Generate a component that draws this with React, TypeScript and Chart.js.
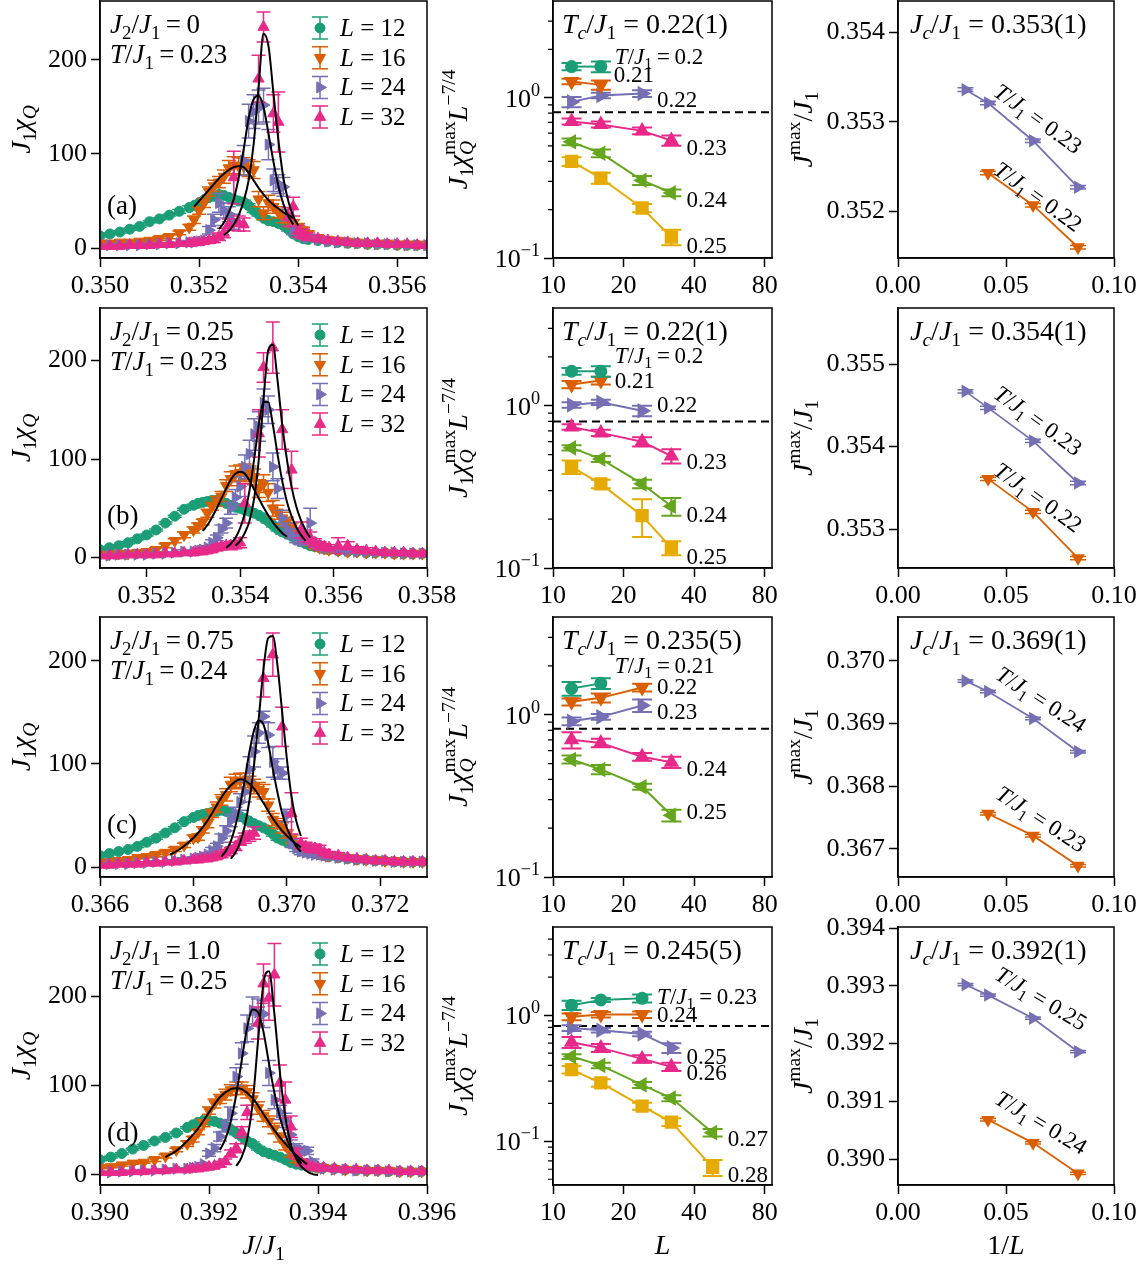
import React, { useEffect, useRef } from 'react';
import { Chart, registerables } from 'chart.js';

Chart.register(...registerables);

const FONT = '"Liberation Serif", "DejaVu Serif", serif';
const TEAL = '#1b9e77';
const ORANGE = '#d95f02';
const PURPLE = '#7570b3';
const PINK = '#e7298a';
const GREEN = '#66a61e';
const YELLOW = '#e6ab02';
const TS = '\u2009';

// text sizes (px)
const SZ_TICK = 26;
const SZ_ANN = 27;
const SZ_LEG = 25;
const SZ_BOX = 28;
const SZ_SER = 23;
const SZ_ROT = 23;
const SZ_TITLE = 28;

// ================= DATA: column 1, J1*chi_Q versus J/J1 =================
const sizesL = [12, 16, 24, 32, 48];

// (a) J2/J1 = 0, T/J1 = 0.23
const gridA = [0.35, 0.3502, 0.3504, 0.3506, 0.3508, 0.351, 0.3512, 0.3514, 0.3516, 0.3518,
  0.3519, 0.352, 0.3521, 0.3522, 0.3523, 0.3524, 0.3525, 0.3526, 0.3527, 0.3528, 0.3529, 0.353, 0.3531, 0.3532, 0.3533, 0.3534, 0.3535, 0.3536, 0.3537, 0.3538, 0.3539, 0.354, 0.3541, 0.3542,
  0.3544, 0.3546, 0.3548, 0.355, 0.3552, 0.3554, 0.3556, 0.3558, 0.356, 0.3562, 0.3564, 0.3566];
const chiA12 = [13, 15, 17, 20, 23, 28, 31, 35, 39, 43, 45, 48, 51, 54, 55, 57, 56, 54, 52, 50, 49, 45, 40, 36, 32, 29, 28, 26, 24, 20, 15, 12, 10, 9, 8, 7, 6, 5, 5, 4, 4, 4, 3, 3, 3, 3];
const errA12 = [1, 1, 1, 1, 1, 1, 1, 1, 2, 2, 2, 2, 2, 2, 2, 2, 2, 2, 2, 2, 2, 2, 2, 2, 2, 2, 2, 2, 2, 2, 1, 1, 1, 1, 1, 1, 1, 1, 1, 1, 1, 1, 1, 1, 1, 1];
const chiA16 = [5, 5, 6, 6, 7, 8, 10, 12, 16, 22, 30, 40, 48, 60, 66, 70, 76, 85, 88, 87, 87, 85, 83, 52, 37, 48, 44, 38, 32, 28, 26, 22, 19, 15, 11, 9, 8, 7, 6, 5, 5, 5, 4, 4, 4, 3];
const errA16 = [1, 1, 1, 1, 1, 1, 2, 2, 2, 3, 4, 4, 5, 5, 6, 6, 7, 8, 9, 9, 9, 9, 9, 8, 7, 8, 7, 6, 5, 5, 4, 4, 3, 3, 2, 2, 2, 2, 2, 2, 1, 1, 1, 1, 1, 1];
const chiA24 = [2, 3, 3, 3, 3, 4, 4, 5, 5, 6, 6, 7, 8, 19, 30, 48, 40, 36, 28, null, 93, 135, 145, 150, 152, 110, 72, 68, 65, 35, 19, 16, 13, 11, 9, 7, 6, 6, 5, 5, 4, 4, 4, 3, 3, 3];
const errA24 = [1, 1, 1, 1, 1, 1, 1, 1, 1, 2, 2, 2, 2, 4, 6, 10, 8, 8, 8, null, 16, 18, 18, 18, 18, 16, 12, 10, 10, 6, 4, 4, 3, 3, 2, 2, 2, 2, 2, 2, 1, 1, 1, 1, 1, 1];
const chiA32 = [2, 2, 2, 3, 3, 3, 4, 4, 5, 5, 6, 6, 7, 8, 9, 12, 16, 25, 75, 26, 25, null, null, 180, 235, null, 143, 134, null, 33, 44, 18, 15, 12, 10, 8, 7, 6, 5, 5, 5, 4, 4, 4, 3, 3];
const errA32 = [1, 1, 1, 1, 1, 1, 1, 1, 1, 2, 2, 2, 2, 3, 3, 4, 5, 6, 28, 8, 7, null, null, 25, 16, null, 20, 32, null, 10, 10, 6, 5, 4, 3, 3, 2, 2, 2, 2, 2, 2, 2, 1, 1, 1];
const fitA16x = [0.3519, 0.352, 0.3521, 0.3522, 0.3523, 0.3524, 0.3525, 0.3526, 0.3527, 0.3528, 0.3529, 0.353, 0.3531, 0.3532, 0.3533, 0.3534, 0.3535, 0.3536, 0.3537, 0.3538, 0.3539];
const fitA16y = [44, 50, 56, 62, 68, 74, 79, 83, 86, 87, 86, 80, 72, 64, 57, 51, 46, 42, 38, 35, 32];
const fitA24x = [0.3524, 0.3525, 0.3526, 0.3527, 0.3528, 0.3529, 0.353, 0.3531, 0.3532, 0.3533, 0.3534, 0.3535, 0.3536, 0.3537, 0.3538, 0.3539];
const fitA24y = [20, 27, 38, 52, 75, 105, 138, 158, 162, 150, 122, 92, 66, 47, 34, 25];
const fitA32x = [0.3525, 0.3526, 0.3527, 0.3528, 0.3529, 0.353, 0.3531, 0.3532, 0.3533, 0.3534, 0.3535, 0.3536, 0.3537, 0.3538, 0.3539, 0.354];
const fitA32y = [14, 18, 25, 35, 50, 72, 110, 170, 228, 215, 165, 115, 75, 50, 34, 24];

// (b) J2/J1 = 0.25, T/J1 = 0.23
const gridB = [0.351, 0.3512, 0.3514, 0.3516, 0.3518, 0.352, 0.3522, 0.3524, 0.3526, 0.3528, 0.353,
  0.3531, 0.3532, 0.3533, 0.3534, 0.3535, 0.3536, 0.3537, 0.3538, 0.3539, 0.354, 0.3541, 0.3542, 0.3543, 0.3544, 0.3545, 0.3546, 0.3547, 0.3548, 0.3549, 0.355,
  0.3551, 0.3552, 0.3553, 0.3554, 0.3555, 0.3556, 0.3557, 0.3558, 0.3559,
  0.3561, 0.3563, 0.3565, 0.3567, 0.3569, 0.3571, 0.3573, 0.3575, 0.3577, 0.3579];
const chiB12 = [8, 10, 12, 15, 19, 23, 28, 35, 42, 49, 53, 55, 56, 57, 58, 58, 57, 55, 53, 51, 50, 48, 47, 45, 43, 40, 37, 33, 29, 26, 24, 22, 19, 16, 14, 12, 11, 10, 9, 8, 7, 6, 6, 5, 5, 5, 4, 4, 4, 4];
const errB12 = [1, 1, 1, 1, 1, 1, 1, 1, 1, 1, 1, 2, 2, 2, 2, 2, 2, 2, 2, 2, 2, 2, 2, 2, 2, 2, 2, 2, 2, 2, 2, 2, 2, 2, 2, 2, 2, 2, 2, 2, 1, 1, 1, 1, 1, 1, 1, 1, 1, 1];
const chiB16 = [3, 3, 4, 4, 5, 6, 8, 12, 17, 23, 28, 32, 36, 45, 52, 57, 62, 73, 80, 85, 86, 87, 85, 82, 70, 75, 66, 50, 46, 40, 36, 30, 26, 22, 18, 15, 12, 10, 9, 8, 7, 6, 6, 5, 5, 5, 4, 4, 4, 4];
const errB16 = [1, 1, 1, 1, 1, 1, 2, 2, 2, 3, 3, 3, 3, 4, 4, 5, 5, 6, 7, 8, 8, 8, 8, 8, 9, 9, 9, 8, 7, 6, 5, 5, 4, 4, 3, 3, 3, 2, 2, 2, 2, 2, 1, 1, 1, 1, 1, 1, 1, 1];
const chiB24 = [2, 2, 3, 3, 3, 3, 4, 4, 5, 6, 6, 7, 8, 10, 15, 20, 29, 35, 50, 61, 72, 92, 105, 125, 133, 157, 150, 92, 70, 40, 29, 24, 19, 17, 16, 35, 14, 12, 10, 9, 8, 7, 6, 6, 5, 5, 5, 4, 4, 4];
const errB24 = [1, 1, 1, 1, 1, 1, 1, 1, 1, 2, 2, 2, 2, 2, 3, 3, 4, 5, 6, 8, 10, 12, 14, 16, 15, 14, 14, 14, 10, 8, 6, 5, 4, 4, 3, 15, 3, 3, 2, 2, 2, 2, 2, 1, 1, 1, 1, 1, 1, 1];
const chiB32 = [2, 2, 2, 3, 3, 3, 3, 4, 4, 5, 5, 6, 6, 7, 8, 10, 11, 12, 12, 13, 15, 55, null, null, 126, 193, null, 213, null, 130, null, 89, null, 28, 22, 20, 15, 12, 11, 10, 12, 12, 8, 7, 6, 5, 5, 5, 4, 4];
const errB32 = [1, 1, 1, 1, 1, 1, 1, 1, 1, 1, 2, 2, 2, 2, 2, 3, 3, 3, 4, 4, 5, 20, null, null, 24, 15, null, 26, null, 20, null, 19, null, 8, 6, 6, 4, 4, 3, 3, 8, 4, 3, 3, 2, 2, 2, 2, 2, 1];
const fitB16x = [0.3532, 0.3533, 0.3534, 0.3535, 0.3536, 0.3537, 0.3538, 0.3539, 0.354, 0.3541, 0.3542, 0.3543, 0.3544, 0.3545, 0.3546, 0.3547, 0.3548, 0.3549, 0.355];
const fitB16y = [27, 33, 41, 50, 60, 70, 79, 85, 87, 85, 78, 69, 60, 51, 43, 36, 30, 25, 21];
const fitB24x = [0.3537, 0.3538, 0.3539, 0.354, 0.3541, 0.3542, 0.3543, 0.3544, 0.3545, 0.3546, 0.3547, 0.3548, 0.3549, 0.355, 0.3551, 0.3552, 0.3553, 0.3554];
const fitB24y = [10, 14, 20, 30, 45, 68, 100, 135, 158, 158, 135, 105, 78, 57, 42, 31, 23, 17];
const fitB32x = [0.3539, 0.354, 0.3541, 0.3542, 0.3543, 0.3544, 0.3545, 0.3546, 0.3547, 0.3548, 0.3549, 0.355, 0.3551, 0.3552, 0.3553, 0.3554, 0.3555];
const fitB32y = [12, 17, 25, 37, 60, 100, 160, 210, 216, 180, 135, 100, 72, 52, 38, 28, 20];

// (c) J2/J1 = 0.75, T/J1 = 0.24
const gridC = [0.366, 0.3662, 0.3664, 0.3666, 0.3668, 0.367, 0.3672, 0.3674, 0.3676, 0.3678, 0.368,
  0.3681, 0.3682, 0.3683, 0.3684, 0.3685, 0.3686, 0.3687, 0.3688, 0.3689, 0.369, 0.3691, 0.3692, 0.3693, 0.3694, 0.3695, 0.3696, 0.3697, 0.3698, 0.3699, 0.37,
  0.3701, 0.3702, 0.3703, 0.3704, 0.3705, 0.3706, 0.3707, 0.3708, 0.3709,
  0.3711, 0.3713, 0.3715, 0.3717, 0.3719, 0.3721, 0.3723, 0.3725, 0.3727, 0.3729];
const chiC12 = [11, 13, 15, 17, 20, 24, 28, 33, 38, 44, 48, 50, 51, 52, 53, 54, 55, 54, 52, 50, 49, 47, 44, 42, 40, 38, 36, 32, 28, 26, 24, 23, 20, 16, 15, 14, 13, 12, 11, 10, 9, 8, 7, 7, 6, 6, 5, 5, 5, 5];
const errC12 = [1, 1, 1, 1, 1, 1, 1, 1, 1, 1, 1, 2, 2, 2, 2, 2, 2, 2, 2, 2, 2, 2, 2, 2, 2, 2, 2, 2, 2, 2, 2, 2, 2, 2, 2, 2, 2, 2, 2, 2, 1, 1, 1, 1, 1, 1, 1, 1, 1, 1];
const chiC16 = [4, 5, 6, 7, 9, 10, 12, 14, 17, 21, 28, 29, 36, 42, 52, 58, 65, 70, 80, 83, 84, 84, 81, 78, 75, 73, 60, 46, 42, 38, 32, 27, 22, 18, 16, 15, 14, 13, 12, 11, 10, 9, 8, 7, 7, 6, 6, 5, 5, 5];
const errC16 = [1, 1, 1, 1, 1, 1, 2, 2, 2, 2, 3, 3, 3, 4, 4, 5, 5, 6, 7, 7, 7, 7, 7, 7, 7, 7, 6, 6, 5, 5, 4, 4, 3, 3, 3, 3, 2, 2, 2, 2, 2, 2, 2, 1, 1, 1, 1, 1, 1, 1];
const chiC24 = [2, 3, 3, 3, 4, 4, 5, 5, 6, 7, 8, 9, 10, 12, 16, 20, 28, 35, 45, 52, 63, 73, 95, 112, 130, 146, 128, 102, 95, 91, 50, 23, 18, 15, 14, 13, 12, 12, 11, 10, 9, 8, 7, 7, 6, 6, 5, 5, 5, 5];
const errC24 = [1, 1, 1, 1, 1, 1, 1, 1, 1, 2, 2, 2, 2, 2, 3, 3, 4, 5, 6, 6, 8, 10, 12, 15, 10, 5, 12, 15, 10, 6, 6, 4, 3, 3, 3, 3, 2, 2, 2, 2, 2, 2, 2, 1, 1, 1, 1, 1, 1, 1];
const chiC32 = [2, 2, 3, 3, 3, 4, 4, 5, 5, 6, 7, 7, 8, 8, 9, 10, 12, 14, 16, 20, 25, 28, 30, 33, null, 183, null, 206, null, 136, null, 52, null, 23, 20, 18, 18, 17, 14, 12, 11, 9, 8, 7, 6, 6, 5, 5, 5, 5];
const errC32 = [1, 1, 1, 1, 1, 1, 1, 1, 1, 2, 2, 2, 2, 2, 2, 2, 3, 3, 3, 4, 4, 5, 5, 6, null, 18, null, 21, null, 19, null, 20, null, 5, 4, 4, 4, 4, 3, 3, 3, 2, 2, 2, 2, 2, 2, 1, 1, 1];
const fitC16x = [0.3675, 0.3677, 0.3679, 0.3681, 0.3683, 0.3685, 0.3687, 0.3689, 0.369, 0.3691, 0.3693, 0.3695, 0.3697, 0.3699, 0.3701, 0.3703];
const fitC16y = [12, 17, 24, 33, 45, 60, 74, 83, 85, 84, 76, 62, 47, 35, 26, 19];
const fitC24x = [0.3686, 0.3687, 0.3688, 0.3689, 0.369, 0.3691, 0.3692, 0.3693, 0.3694, 0.3695, 0.3696, 0.3697, 0.3698, 0.3699, 0.37, 0.3701, 0.3702, 0.3703];
const fitC24y = [10, 16, 25, 40, 60, 85, 112, 133, 142, 138, 120, 95, 72, 52, 38, 28, 20, 15];
const fitC32x = [0.3688, 0.3689, 0.369, 0.3691, 0.3692, 0.3693, 0.3694, 0.3695, 0.3696, 0.3697, 0.3698, 0.3699, 0.37, 0.3701, 0.3702, 0.3703];
const fitC32y = [8, 14, 24, 40, 65, 100, 145, 192, 222, 224, 195, 150, 105, 68, 45, 30];

// (d) J2/J1 = 1.0, T/J1 = 0.25
const gridD = [0.39, 0.3902, 0.3904, 0.3906, 0.3908, 0.391, 0.3912, 0.3914, 0.3916,
  0.3917, 0.3918, 0.3919, 0.392, 0.3921, 0.3922, 0.3923, 0.3924, 0.3925, 0.3926, 0.3927, 0.3928, 0.3929, 0.393, 0.3931, 0.3932, 0.3933, 0.3934, 0.3935, 0.3936,
  0.3937, 0.3938, 0.3939, 0.394, 0.3941,
  0.3943, 0.3945, 0.3947, 0.3949, 0.3951, 0.3953, 0.3955, 0.3957, 0.3959];
const chiD12 = [17, 20, 24, 29, 33, 38, 42, 47, 53, 56, 59, 61, 61, 60, 58, 55, 51, 47, 43, 38, 35, 30, 26, 24, 22, 20, 17, 14, 12, 11, 10, 9, 8, 8, 7, 6, 5, 5, 5, 4, 4, 4, 4];
const errD12 = [1, 1, 1, 1, 1, 1, 1, 1, 1, 2, 2, 2, 2, 2, 2, 2, 2, 2, 2, 2, 2, 2, 2, 2, 2, 2, 2, 2, 2, 2, 2, 2, 2, 2, 1, 1, 1, 1, 1, 1, 1, 1, 1];
const chiD16 = [8, 9, 11, 13, 14, 17, 21, 28, 35, 40, 48, 58, 72, 80, 85, 90, 95, 97, 97, 93, 85, 75, 66, 60, 52, 42, 33, 24, 18, 14, 12, 10, 9, 8, 7, 6, 6, 5, 5, 5, 4, 4, 4];
const errD16 = [1, 1, 1, 1, 1, 2, 2, 2, 3, 3, 3, 4, 4, 5, 5, 6, 6, 7, 7, 7, 7, 7, 6, 6, 6, 5, 5, 4, 4, 3, 3, 2, 2, 2, 2, 2, 1, 1, 1, 1, 1, 1, 1];
const chiD24 = [3, 3, 4, 4, 5, 5, 6, 7, 7, 8, 9, 12, 24, 30, 43, 55, 69, 110, 136, 164, 184, 182, 180, 114, 84, 70, 61, 45, 30, 28, 27, 15, 9, 7, 6, 6, 5, 5, 5, 4, 4, 4, 4];
const errD24 = [1, 1, 1, 1, 1, 1, 1, 1, 1, 2, 2, 2, 3, 4, 5, 6, 7, 10, 12, 15, 15, 15, 15, 14, 10, 8, 8, 6, 5, 4, 4, 3, 2, 2, 2, 2, 1, 1, 1, 1, 1, 1, 1];
const chiD32 = [3, 3, 3, 4, 4, 5, 5, 6, 6, 7, 7, 8, 9, 10, 12, 15, 24, 30, 48, 70, null, 170, 214, 198, 224, 103, 84, 54, 24, 14, 11, 9, 8, 8, 7, 6, 6, 5, 5, 5, 4, 4, 4];
const errD32 = [1, 1, 1, 1, 1, 1, 1, 1, 1, 2, 2, 2, 2, 2, 3, 3, 4, 5, 6, 8, null, 18, 22, 25, 35, 20, 20, 12, 6, 4, 3, 3, 2, 2, 2, 2, 2, 2, 1, 1, 1, 1, 1];
const fitD16x = [0.3912, 0.3914, 0.3916, 0.3918, 0.392, 0.3922, 0.3924, 0.3925, 0.3926, 0.3928, 0.393, 0.3932, 0.3934, 0.3936, 0.3938];
const fitD16y = [20, 27, 38, 52, 70, 87, 96, 97, 96, 86, 68, 50, 35, 22, 12];
const fitD24x = [0.3922, 0.3923, 0.3924, 0.3925, 0.3926, 0.3927, 0.3928, 0.3929, 0.393, 0.3931, 0.3932, 0.3933, 0.3934, 0.3935, 0.3936, 0.3937];
const fitD24y = [28, 40, 60, 90, 128, 165, 185, 182, 160, 125, 92, 65, 45, 30, 20, 13];
const fitD32x = [0.3925, 0.3926, 0.3927, 0.3928, 0.3929, 0.393, 0.3931, 0.3932, 0.3933, 0.3934, 0.3935, 0.3936, 0.3937, 0.3938, 0.3939, 0.394];
const fitD32y = [10, 20, 40, 80, 150, 215, 228, 180, 115, 65, 35, 18, 9, 4, 1, 0];

// ================= DATA: column 2, J1 chi_Q^max L^-7/4 versus L =================
const tempsA = ['0.2', '0.21', '0.22', '0.23', '0.24', '0.25'];
const scaledA = [[1.56, 1.56], [1.26, 1.2], [0.94, 1.03, 1.06], [0.71, 0.68, 0.62, 0.54], [0.53, 0.45, 0.305, 0.255], [0.4, 0.315, 0.205, 0.135]];
const scaledErrA = [[0.08, 0.12], [0.05, 0.08], [0.07, 0.04, 0.05], [0.03, 0.03, 0.03, 0.04], [0.025, 0.025, 0.02, 0.012], [0.025, 0.025, 0.012, 0.015]];
const tempsB = ['0.2', '0.21', '0.22', '0.23', '0.24', '0.25'];
const scaledB = [[1.63, 1.63], [1.35, 1.43], [1.01, 1.05, 0.93], [0.74, 0.68, 0.6, 0.49], [0.55, 0.47, 0.33, 0.24], [0.42, 0.33, 0.21, 0.133]];
const scaledErrB = [[0.08, 0.12], [0.07, 0.08], [0.04, 0.04, 0.07], [0.03, 0.03, 0.04, 0.05], [0.02, 0.02, 0.02, 0.03], [0.04, 0.02, 0.055, 0.013]];
const tempsC = ['0.21', '0.22', '0.23', '0.24', '0.25'];
const scaledC = [[1.45, 1.56], [1.2, 1.27, 1.47], [0.91, 0.97, 1.14], [0.7, 0.67, 0.55, 0.51], [0.53, 0.46, 0.36, 0.24]];
const scaledErrC = [[0.14, 0.12], [0.06, 0.08, 0.08], [0.05, 0.04, 0.1], [0.08, 0.04, 0.03, 0.04], [0.03, 0.03, 0.015, 0.02]];
const tempsD = ['0.23', '0.24', '0.25', '0.26', '0.27', '0.28'];
const scaledD = [[1.2, 1.32, 1.36], [0.97, 1.01, 1.01], [0.79, 0.76, 0.71, 0.55], [0.61, 0.55, 0.45, 0.39], [0.47, 0.4, 0.28, 0.22, 0.117], [0.37, 0.29, 0.19, 0.142, 0.062]];
const scaledErrD = [[0.1, 0.05, 0.1], [0.06, 0.05, 0.06], [0.04, 0.03, 0.03, 0.05], [0.06, 0.04, 0.03, 0.03], [0.02, 0.02, 0.015, 0.012, 0.008], [0.025, 0.02, 0.012, 0.01, 0.009]];
const critLevel = [0.81, 0.8, 0.82, 0.82];
const tcText = ['0.22(1)', '0.22(1)', '0.235(5)', '0.245(5)'];

// ================= DATA: column 3, J^max/J1 versus 1/L (L = 12, 16, 24, 32) =================
const jmaxHiA = [0.35227, 0.35279, 0.35321, 0.35336];
const jmaxLoA = [0.3516, 0.35207, 0.35243];
const jmaxHiB = [0.35356, 0.35407, 0.35447, 0.35467];
const jmaxLoB = [0.35265, 0.35321, 0.35361];
const jmaxHiC = [0.36855, 0.36908, 0.36951, 0.36968];
const jmaxLoC = [0.36673, 0.36721, 0.36756];
const jmaxHiD = [0.39186, 0.39244, 0.39284, 0.39302];
const jmaxLoD = [0.38975, 0.39028, 0.39068];
const jmaxErr = [0.00002, 0.00002, 0.00002, 0.00002];
const jcText = ['0.353(1)', '0.354(1)', '0.369(1)', '0.392(1)'];
const jTempHi = ['0.23', '0.23', '0.24', '0.25'];
const jTempLo = ['0.22', '0.22', '0.23', '0.24'];

// ================= layout / styles =================
const COLS = [
  { plot: [100, 427], canvas: [0, 470] },
  { plot: [553, 772], canvas: [440, 805] },
  { plot: [898, 1114], canvas: [780, 1147] },
];
const ROWS = [[1, 258], [308, 568], [617, 877], [927, 1185]];

const L_STYLES = [
  { color: TEAL, style: 'circle', rot: 0, r: 5 },
  { color: ORANGE, style: 'triangle', rot: 180, r: 6.5 },
  { color: PURPLE, style: 'triangle', rot: 90, r: 6.5 },
  { color: PINK, style: 'triangle', rot: 0, r: 6.5 },
];
const MID_STYLES = [
  { color: TEAL, style: 'circle', rot: 0, r: 5.5 },
  { color: ORANGE, style: 'triangle', rot: 180, r: 7 },
  { color: PURPLE, style: 'triangle', rot: 90, r: 7 },
  { color: PINK, style: 'triangle', rot: 0, r: 7 },
  { color: GREEN, style: 'triangle', rot: 270, r: 7 },
  { color: YELLOW, style: 'rect', rot: 0, r: 8 },
];

const LEFT = [
  { grid: gridA, chi: [chiA12, chiA16, chiA24, chiA32], err: [errA12, errA16, errA24, errA32], fits: [[fitA16x, fitA16y], [fitA24x, fitA24y], [fitA32x, fitA32y]], xLim: [0.35, 0.3566], yLim: [-10.6, 262.7], xTicks: [0.35, 0.352, 0.354, 0.356], j2: '0', t: '0.23', letter: 'a' },
  { grid: gridB, chi: [chiB12, chiB16, chiB24, chiB32], err: [errB12, errB16, errB24, errB32], fits: [[fitB16x, fitB16y], [fitB24x, fitB24y], [fitB32x, fitB32y]], xLim: [0.351, 0.358], yLim: [-10.6, 253.3], xTicks: [0.352, 0.354, 0.356, 0.358], j2: '0.25', t: '0.23', letter: 'b' },
  { grid: gridC, chi: [chiC12, chiC16, chiC24, chiC32], err: [errC12, errC16, errC24, errC32], fits: [[fitC16x, fitC16y], [fitC24x, fitC24y], [fitC32x, fitC32y]], xLim: [0.366, 0.373], yLim: [-9.7, 242.5], xTicks: [0.366, 0.368, 0.37, 0.372], j2: '0.75', t: '0.24', letter: 'c' },
  { grid: gridD, chi: [chiD12, chiD16, chiD24, chiD32], err: [errD12, errD16, errD24, errD32], fits: [[fitD16x, fitD16y], [fitD24x, fitD24y], [fitD32x, fitD32y]], xLim: [0.39, 0.396], yLim: [-11.2, 277.4], xTicks: [0.39, 0.392, 0.394, 0.396], j2: '1.0', t: '0.25', letter: 'd' },
];

const MID_X = [10, 86];
const MID = [
  { temps: tempsA, vals: scaledA, errs: scaledErrA, yLim: [0.1, 4.0], offs: [[14, -10], [13, -10], [15, 6], [15, 7], [15, 7], [15, 9]] },
  { temps: tempsB, vals: scaledB, errs: scaledErrB, yLim: [0.1, 4.0], offs: [[14, -15], [14, 1], [15, -6], [15, 6], [15, 9], [15, 9]] },
  { temps: tempsC, vals: scaledC, errs: scaledErrC, yLim: [0.1, 4.0], offs: [[14, -17], [15, -1], [15, 7], [15, 7], [15, -3]] },
  { temps: tempsD, vals: scaledD, errs: scaledErrD, yLim: [0.045, 5.0], offs: [[15, -1], [15, 0], [15, 9], [15, 6], [15, 6], [15, 8]] },
];

const RIGHT = [
  { hi: jmaxHiA, lo: jmaxLoA, yLim: [0.35148, 0.35435], yTicks: [0.352, 0.353, 0.354], anchors: [[0.065, 0.35304], [0.065, 0.35217]], angle: 36 },
  { hi: jmaxHiB, lo: jmaxLoB, yLim: [0.35253, 0.35568], yTicks: [0.353, 0.354, 0.355], anchors: [[0.065, 0.35432], [0.065, 0.35339]], angle: 36 },
  { hi: jmaxHiC, lo: jmaxLoC, yLim: [0.36655, 0.3707], yTicks: [0.367, 0.368, 0.369, 0.37], anchors: [[0.0664, 0.36939], [0.0664, 0.36748]], angle: 33 },
  { hi: jmaxHiD, lo: jmaxLoD, yLim: [0.38955, 0.39402], yTicks: [0.39, 0.391, 0.392, 0.393, 0.394], anchors: [[0.0664, 0.39279], [0.0664, 0.39064]], angle: 31 },
];

// ================= drawing helpers =================
function parseRich(s: string) {
  const out: any[] = [];
  let it = false;
  let buf = '';
  let i = 0;
  const flush = () => { if (buf) out.push({ t: buf, it, lv: 0 }); buf = ''; };
  while (i < s.length) {
    const c = s[i];
    if (c === '*') { flush(); it = !it; i++; continue; }
    if (c === '_' || c === '^') {
      flush();
      let body: string;
      if (s[i + 1] === '{') { const j = s.indexOf('}', i + 2); body = s.slice(i + 2, j); i = j + 1; }
      else { body = s[i + 1]; i += 2; }
      let sit = false;
      if (body.length > 1 && body[0] === '*' && body[body.length - 1] === '*') { sit = true; body = body.slice(1, -1); }
      out.push({ t: body, it: sit, lv: c === '_' ? -1 : 1 });
      continue;
    }
    buf += c;
    i++;
  }
  flush();
  return out;
}

function drawRich(ctx: any, s: string, x: number, y: number, size: number, align = 'left', color = '#000') {
  const segs = parseRich(s);
  const placed: any[] = [];
  let pos = 0;
  let prev: any = null;
  for (const sg of segs) {
    const fs = sg.lv === 0 ? size : size * 0.7;
    const font = `${sg.it ? 'italic ' : ''}${fs}px ${FONT}`;
    ctx.font = font;
    const w = ctx.measureText(sg.t).width;
    let x0 = pos;
    if (prev && prev.lv !== 0 && sg.lv !== 0 && prev.lv !== sg.lv) {
      x0 = prev.x0;
      pos = Math.max(prev.x0 + prev.w, x0 + w);
    } else {
      pos = x0 + w;
    }
    const item = { t: sg.t, lv: sg.lv, font, x0, w };
    placed.push(item);
    prev = item;
  }
  const total = pos;
  const start = align === 'center' ? x - total / 2 : align === 'right' ? x - total : x;
  ctx.save();
  ctx.fillStyle = color;
  ctx.textAlign = 'left';
  ctx.textBaseline = 'alphabetic';
  for (const p of placed) {
    ctx.font = p.font;
    const dy = p.lv < 0 ? size * 0.22 : p.lv > 0 ? -size * 0.42 : 0;
    ctx.fillText(p.t, start + p.x0, y + dy);
  }
  ctx.restore();
}

function yTitle(ctx: any, s: string, x: number, y: number, size: number) {
  ctx.save();
  ctx.translate(x, y);
  ctx.rotate(-Math.PI / 2);
  drawRich(ctx, s, 0, 0, size, 'center');
  ctx.restore();
}

function frame(ctx: any, ca: any) {
  ctx.save();
  ctx.strokeStyle = '#000';
  ctx.lineWidth = 1.5;
  ctx.strokeRect(ca.left, ca.top, ca.right - ca.left, ca.bottom - ca.top);
  ctx.restore();
}

function drawMarker(ctx: any, style: string, rot: number, x: number, y: number, r: number, color: string) {
  ctx.save();
  ctx.fillStyle = color;
  ctx.strokeStyle = color;
  ctx.lineWidth = 1;
  ctx.beginPath();
  if (style === 'circle') ctx.arc(x, y, r, 0, Math.PI * 2);
  else if (style === 'rect') { const h = r * Math.SQRT1_2; ctx.rect(x - h, y - h, 2 * h, 2 * h); }
  else {
    let a = (rot * Math.PI) / 180;
    ctx.moveTo(x + Math.sin(a) * r, y - Math.cos(a) * r);
    a += (2 * Math.PI) / 3;
    ctx.lineTo(x + Math.sin(a) * r, y - Math.cos(a) * r);
    a += (2 * Math.PI) / 3;
    ctx.lineTo(x + Math.sin(a) * r, y - Math.cos(a) * r);
    ctx.closePath();
  }
  ctx.fill();
  ctx.stroke();
  ctx.restore();
}

const errorBars = {
  id: 'errorBars',
  beforeDatasetDraw(chart: any, args: any) {
    const ds = chart.data.datasets[args.index];
    const errs = ds.errors;
    if (!errs) return;
    const meta = args.meta;
    const ys = chart.scales[meta.yAxisID];
    const ctx = chart.ctx;
    const ca = chart.chartArea;
    const cap = ds.capSize || 8;
    ctx.save();
    ctx.beginPath();
    ctx.rect(ca.left, ca.top, ca.right - ca.left, ca.bottom - ca.top);
    ctx.clip();
    ctx.strokeStyle = ds.pointBorderColor || ds.borderColor;
    ctx.lineWidth = ds.errWidth || 1.5;
    meta.data.forEach((pt: any, i: number) => {
      const d = ds.data[i];
      if (!d || d.y == null || errs[i] == null || pt.skip) return;
      const x = pt.x;
      const y1 = ys.getPixelForValue(d.y - errs[i]);
      const y2 = ys.getPixelForValue(d.y + errs[i]);
      ctx.beginPath();
      ctx.moveTo(x, y1); ctx.lineTo(x, y2);
      ctx.moveTo(x - cap, y1); ctx.lineTo(x + cap, y1);
      ctx.moveTo(x - cap, y2); ctx.lineTo(x + cap, y2);
      ctx.stroke();
    });
    ctx.restore();
  },
};

function makeScale(axis: string, type: string, lim: number[], ticks: number[], fmt: (v: number) => string, g: any) {
  return {
    type,
    min: lim[0],
    max: lim[1],
    position: axis === 'x' ? 'bottom' : 'left',
    afterBuildTicks: (s: any) => { s.ticks = ticks.map((v) => ({ value: v })); },
    afterFit: (s: any) => {
      if (axis === 'x') { s.height = g.xH; s.paddingLeft = 0; s.paddingRight = 0; }
      else { s.width = g.yW; s.paddingTop = 0; s.paddingBottom = 0; }
    },
    grid: { display: true, drawOnChartArea: false, drawTicks: true, tickLength: 9, tickWidth: 1.5, tickColor: '#000' },
    border: { display: true, color: '#000', width: 1.5 },
    ticks: {
      color: '#000',
      font: { family: FONT, size: SZ_TICK },
      padding: 4,
      autoSkip: false,
      maxRotation: 0,
      minRotation: 0,
      callback: (v: any) => fmt(Number(v)),
    },
  };
}

function baseOptions(g: any, scales: any) {
  return {
    responsive: false,
    animation: false,
    events: [],
    devicePixelRatio: 1,
    layout: { padding: g.pad },
    plugins: { legend: { display: false }, tooltip: { enabled: false } },
    scales,
  };
}

function geom(col: number, row: number) {
  const C = COLS[col];
  const [pt, pb] = ROWS[row];
  const cx0 = C.canvas[0];
  const cx1 = C.canvas[1];
  const cy0 = pt - 18;
  const cy1 = row === 3 ? 1265 : pb + 46;
  return {
    x: cx0, y: cy0, w: cx1 - cx0, h: cy1 - cy0,
    yW: C.plot[0] - cx0, xH: cy1 - pb,
    pad: { left: 0, top: pt - cy0, right: cx1 - C.plot[1], bottom: 0 },
  };
}

// ================= chart configs =================
function leftConfig(row: number, g: any) {
  const P: any = LEFT[row];
  const datasets: any[] = [];
  P.fits.forEach((f: any) => datasets.push({
    data: f[0].map((x: number, i: number) => ({ x, y: f[1][i] })),
    borderColor: '#000', borderWidth: 2, pointRadius: 0, cubicInterpolationMode: 'monotone', order: 0,
  }));
  L_STYLES.forEach((s, k) => datasets.push({
    data: P.grid.map((x: number, i: number) => ({ x, y: P.chi[k][i] })),
    showLine: false,
    pointStyle: s.style, pointRotation: s.rot, pointRadius: s.r,
    pointBackgroundColor: s.color, pointBorderColor: s.color, borderColor: s.color,
    errors: P.err[k], capSize: 7, errWidth: 1.5, order: 4 - k,
  }));
  const deco = {
    id: 'decoLeft',
    afterDraw(chart: any) {
      const ctx = chart.ctx;
      const ca = chart.chartArea;
      frame(ctx, ca);
      drawRich(ctx, `*J*_2/*J*_1${TS}=${TS}${P.j2}`, ca.left + 10, ca.top + 32, SZ_ANN);
      drawRich(ctx, `*T*/*J*_1${TS}=${TS}${P.t}`, ca.left + 10, ca.top + 62, SZ_ANN);
      drawRich(ctx, `(${P.letter})`, ca.left + 7, ca.bottom - 44, SZ_ANN);
      L_STYLES.forEach((s, k) => {
        const yb = ca.top + 35 + k * 29.7;
        const mx = ca.right - 107;
        const my = yb - 8;
        ctx.save();
        ctx.strokeStyle = s.color;
        ctx.lineWidth = 1.5;
        ctx.beginPath();
        ctx.moveTo(mx, my - 11); ctx.lineTo(mx, my + 11);
        ctx.moveTo(mx - 8, my - 11); ctx.lineTo(mx + 8, my - 11);
        ctx.moveTo(mx - 8, my + 11); ctx.lineTo(mx + 8, my + 11);
        ctx.stroke();
        ctx.restore();
        drawMarker(ctx, s.style, s.rot, mx, my, s.r, s.color);
        drawRich(ctx, `*L* = ${sizesL[k]}`, ca.right - 87, yb, SZ_LEG);
      });
      yTitle(ctx, '*J*_1*χ*_{*Q*}', ca.left - 70, (ca.top + ca.bottom) / 2, SZ_TITLE);
      if (row === 3) drawRich(ctx, '*J*/*J*_1', (ca.left + ca.right) / 2, ca.bottom + 69, SZ_TITLE, 'center');
    },
  };
  return {
    type: 'line',
    data: { datasets },
    options: baseOptions(g, {
      x: makeScale('x', 'linear', P.xLim, P.xTicks, (v) => v.toFixed(3), g),
      y: makeScale('y', 'linear', P.yLim, [0, 100, 200], (v) => String(Math.round(v)), g),
    }),
    plugins: [errorBars, deco],
  };
}

function midConfig(row: number, g: any) {
  const P: any = MID[row];
  const datasets: any[] = [];
  datasets.push({
    data: [{ x: MID_X[0], y: critLevel[row] }, { x: MID_X[1], y: critLevel[row] }],
    borderColor: '#000', borderWidth: 2, borderDash: [8, 5], pointRadius: 0, order: 20,
  });
  P.vals.forEach((vals: number[], k: number) => {
    const s = MID_STYLES[k];
    datasets.push({
      data: vals.map((v, i) => ({ x: sizesL[i], y: v })),
      borderColor: s.color, borderWidth: 2,
      pointStyle: s.style, pointRotation: s.rot, pointRadius: s.r,
      pointBackgroundColor: s.color, pointBorderColor: s.color,
      errors: P.errs[k], capSize: 10, errWidth: 2, order: k + 1,
    });
  });
  const deco = {
    id: 'decoMid',
    afterDraw(chart: any) {
      const ctx = chart.ctx;
      const ca = chart.chartArea;
      const ys = chart.scales.y;
      frame(ctx, ca);
      drawRich(ctx, '10^0', ca.left - 13, ys.getPixelForValue(1) + 9, SZ_TICK, 'right');
      drawRich(ctx, '10^{−1}', ca.left - 13, ys.getPixelForValue(0.1) + 9, SZ_TICK, 'right');
      ctx.save();
      ctx.strokeStyle = '#000';
      ctx.lineWidth = 1.2;
      ctx.beginPath();
      [0.01, 0.1, 1].forEach((dec) => {
        [2, 3, 4, 5, 6, 7, 8, 9].forEach((m) => {
          const v = m * dec;
          if (v <= ys.min || v >= ys.max) return;
          const py = ys.getPixelForValue(v);
          ctx.moveTo(ca.left - 5, py);
          ctx.lineTo(ca.left, py);
        });
      });
      ctx.stroke();
      ctx.restore();
      drawRich(ctx, `*T*_{*c*}/*J*_1 = ${tcText[row]}`, ca.left + 9, ca.top + 32, SZ_BOX);
      P.temps.forEach((t: string, k: number) => {
        const meta = chart.getDatasetMeta(k + 1);
        const last = meta.data[meta.data.length - 1];
        const txt = k === 0 ? `*T*/*J*_1${TS}=${TS}${t}` : t;
        drawRich(ctx, txt, last.x + P.offs[k][0], last.y + P.offs[k][1] + 7, SZ_SER);
      });
      yTitle(ctx, '*J*_1*χ*_{*Q*}^{max}*L*^{−7/4}', ca.left - 86, (ca.top + ca.bottom) / 2, SZ_TITLE);
      if (row === 3) drawRich(ctx, '*L*', (ca.left + ca.right) / 2, ca.bottom + 69, SZ_TITLE, 'center');
    },
  };
  return {
    type: 'line',
    data: { datasets },
    options: baseOptions(g, {
      x: makeScale('x', 'logarithmic', MID_X, [10, 20, 40, 80], (v) => String(Math.round(v)), g),
      y: makeScale('y', 'logarithmic', P.yLim, [0.1, 1], () => '', g),
    }),
    plugins: [errorBars, deco],
  };
}

function rightConfig(row: number, g: any) {
  const P: any = RIGHT[row];
  const hiStyle = { color: PURPLE, rot: 90 };
  const loStyle = { color: ORANGE, rot: 180 };
  const mk = (vals: number[], st: any, ord: number) => ({
    data: vals.map((v, i) => ({ x: 1 / sizesL[i], y: v })),
    borderColor: st.color, borderWidth: 1.8,
    pointStyle: 'triangle', pointRotation: st.rot, pointRadius: 6,
    pointBackgroundColor: st.color, pointBorderColor: st.color,
    errors: jmaxErr, capSize: 8, errWidth: 1.5, order: ord,
  });
  const datasets = [mk(P.hi, hiStyle, 1), mk(P.lo, loStyle, 2)];
  const deco = {
    id: 'decoRight',
    afterDraw(chart: any) {
      const ctx = chart.ctx;
      const ca = chart.chartArea;
      const xs = chart.scales.x;
      const ys = chart.scales.y;
      frame(ctx, ca);
      drawRich(ctx, `*J*_{*c*}/*J*_1 = ${jcText[row]}`, ca.left + 12, ca.top + 32, SZ_BOX);
      [jTempHi[row], jTempLo[row]].forEach((t, k) => {
        const px = xs.getPixelForValue(P.anchors[k][0]);
        const py = ys.getPixelForValue(P.anchors[k][1]);
        ctx.save();
        ctx.translate(px, py);
        ctx.rotate((P.angle * Math.PI) / 180);
        drawRich(ctx, `*T*/*J*_1 = ${t}`, 0, 8, SZ_ROT, 'center');
        ctx.restore();
      });
      yTitle(ctx, '*J*^{max}/*J*_1', ca.left - 86, (ca.top + ca.bottom) / 2, SZ_TITLE);
      if (row === 3) drawRich(ctx, '1/*L*', (ca.left + ca.right) / 2, ca.bottom + 69, SZ_TITLE, 'center');
    },
  };
  return {
    type: 'line',
    data: { datasets },
    options: baseOptions(g, {
      x: makeScale('x', 'linear', [0, 0.1], [0, 0.05, 0.1], (v) => v.toFixed(2), g),
      y: makeScale('y', 'linear', P.yLim, P.yTicks, (v) => v.toFixed(3), g),
    }),
    plugins: [errorBars, deco],
  };
}

// ================= components =================
function Panel({ col, row, make }: { col: number; row: number; make: (g: any) => any }) {
  const ref = useRef<HTMLCanvasElement>(null);
  const g = geom(col, row);
  useEffect(() => {
    const chart = new Chart(ref.current as HTMLCanvasElement, make(g));
    return () => chart.destroy();
  }, []);
  return (
    <canvas
      ref={ref}
      width={g.w}
      height={g.h}
      style={{ position: 'absolute', left: g.x, top: g.y, width: g.w, height: g.h }}
    />
  );
}

export default function App() {
  const panels: any[] = [];
  for (let r = 0; r < 4; r++) {
    panels.push(<Panel key={`l${r}`} col={0} row={r} make={(g) => leftConfig(r, g)} />);
    panels.push(<Panel key={`m${r}`} col={1} row={r} make={(g) => midConfig(r, g)} />);
    panels.push(<Panel key={`r${r}`} col={2} row={r} make={(g) => rightConfig(r, g)} />);
  }
  return (
    <div style={{ position: 'absolute', left: 0, top: 0, width: 1147, height: 1265, background: '#fff', overflow: 'hidden' }}>
      {panels}
    </div>
  );
}
